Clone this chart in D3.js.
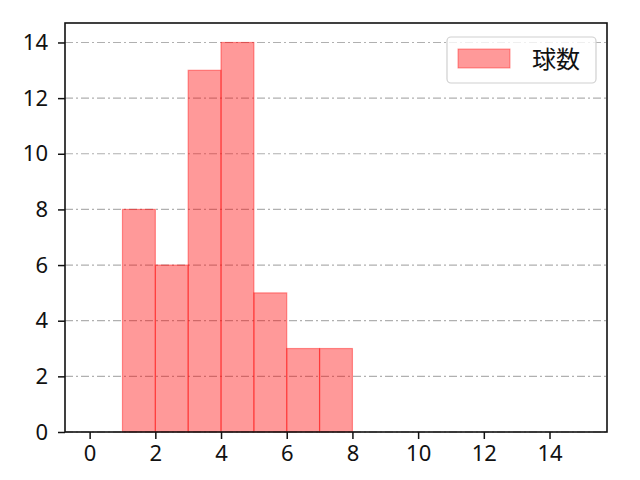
<!DOCTYPE html>
<html><head><meta charset="utf-8">
<script src="https://cdn.jsdelivr.net/npm/d3@7"></script>
<style>body{margin:0;background:#fff}svg{display:block}</style>
</head><body>
<script>
const binStarts = [1,2,3,4,5,6,7];
const counts = [8,6,13,14,5,3,3];
const xTicks = [0,2,4,6,8,10,12,14];
const yTicks = [0,2,4,6,8,10,12,14];
const legendLabel = "球数";

const W=640,H=480;
const L=65,R=607,T=23,B=432;
const tickFont = "'Noto Sans', sans-serif";
const cjkFont = "'Noto Sans CJK JP', sans-serif";
const svg=d3.select("body").append("svg").attr("width",W).attr("height",H);
const x=d3.scaleLinear().domain([-0.75,15.75]).range([L,R]);
const y=d3.scaleLinear().domain([0,14.7]).range([B,T]);

// grid
svg.append("g").selectAll("line").data(yTicks).join("line")
  .attr("x1",L).attr("x2",R).attr("y1",d=>y(d)).attr("y2",d=>y(d))
  .attr("stroke","#b0b0b0").attr("stroke-width",1.2)
  .attr("stroke-dasharray","8,3,2,3");

// bars
svg.append("g").selectAll("rect").data(binStarts).join("rect")
  .attr("x",d=>x(d)).attr("width",d=>x(d+1)-x(d))
  .attr("y",(d,i)=>y(counts[i])).attr("height",(d,i)=>y(0)-y(counts[i]))
  .attr("fill","rgba(255,0,0,0.4)").attr("stroke","rgba(255,0,0,0.4)").attr("stroke-width",1.2);

// axes
const xa=svg.append("g").attr("transform",`translate(0,${B})`)
  .call(d3.axisBottom(x).tickValues(xTicks).tickSize(7).tickPadding(6).tickFormat(d3.format("d")));
const ya=svg.append("g").attr("transform",`translate(${L},0)`)
  .call(d3.axisLeft(y).tickValues(yTicks).tickSize(7).tickPadding(10).tickFormat(d3.format("d")));
[xa,ya].forEach(a=>{
  a.attr("font-family",tickFont).attr("font-size",22);
  a.select(".domain").remove();
  a.selectAll("line").attr("stroke","#111").attr("stroke-width",1.5);
  a.selectAll("text").style("font-family",tickFont).style("font-size","22px").attr("fill","#111");
});
svg.append("rect").attr("x",L).attr("y",T).attr("width",R-L).attr("height",B-T)
  .attr("fill","none").attr("stroke","#111").attr("stroke-width",1.6);

// legend
const lg=svg.append("g");
lg.append("rect").attr("x",447).attr("y",37).attr("width",149).attr("height",46).attr("rx",4)
  .attr("fill","rgba(255,255,255,0.8)").attr("stroke","#d0d0d0").attr("stroke-width",1.2);
lg.append("rect").attr("x",458).attr("y",49).attr("width",52).attr("height",19)
  .attr("fill","rgba(255,0,0,0.4)").attr("stroke","rgba(255,0,0,0.4)");
lg.append("text").attr("x",532).attr("y",68).text(legendLabel)
  .style("font-family",cjkFont).style("font-size","24px").attr("fill","#111");
</script>
</body></html>
